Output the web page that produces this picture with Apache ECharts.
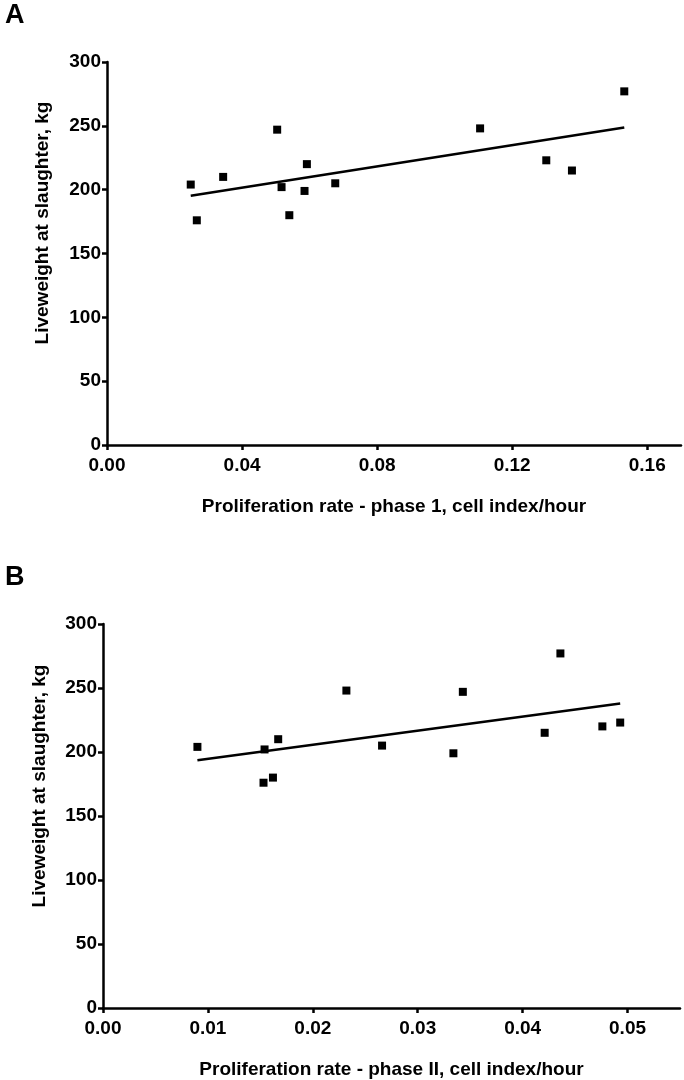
<!DOCTYPE html>
<html>
<head>
<meta charset="utf-8">
<script src="https://cdn.jsdelivr.net/npm/echarts@6/dist/echarts.min.js"></script>
<style>
html,body{margin:0;padding:0;background:#fff;}
#c{width:684px;height:1080px;}
</style>
</head>
<body>
<div id="c"></div>
<script>
// Panel A data: proliferation rate phase 1 vs liveweight
const xA = [0.0248, 0.0266, 0.0344, 0.0504, 0.0517, 0.0540, 0.0592, 0.0585, 0.0676, 0.1105, 0.1301, 0.1377, 0.1532];
const yA = [204, 176, 210, 247, 202, 180, 220, 199, 205, 248, 223, 215, 277];
const trendAx = [0.0248, 0.1532];
const trendAy = [195.3, 248.7];

// Panel B data: proliferation rate phase II vs liveweight
const xB = [0.0090, 0.0154, 0.0153, 0.0162, 0.0167, 0.0232, 0.0266, 0.0334, 0.0343, 0.0436, 0.0421, 0.0476, 0.0493];
const yB = [204, 202, 176, 180, 210, 248, 205, 199, 247, 277, 215, 220, 223];
const trendBx = [0.0090, 0.0493];
const trendBy = [193.5, 237.9];

const yTicks = [0, 50, 100, 150, 200, 250, 300];
const xTicksA = [0, 0.04, 0.08, 0.12, 0.16];
const xTicksB = [0, 0.01, 0.02, 0.03, 0.04, 0.05];
const yTitle = 'Liveweight at slaughter, kg';

const FONT = '"Liberation Sans", Arial, sans-serif';
const FS = 19;
const zip = (a, b) => a.map((v, i) => [v, b[i]]);

function xAxisCfg(gi, max, ticks, name) {
  return {
    type: 'value', gridIndex: gi, min: 0, max: max,
    name: name, nameLocation: 'middle', nameGap: 52,
    nameTextStyle: {fontFamily: FONT, fontWeight: 'bold', fontSize: FS, color: '#000'},
    axisLine: {show: true, onZero: false, lineStyle: {color: '#000', width: 2.5}},
    axisTick: {show: true, length: 5, lineStyle: {color: '#000', width: 2.5}, customValues: ticks},
    axisLabel: {customValues: ticks, formatter: v => v.toFixed(2), fontFamily: FONT, fontWeight: 'bold', fontSize: FS, color: '#000', margin: 11},
    splitLine: {show: false}
  };
}
function yAxisCfg(gi) {
  return {
    type: 'value', gridIndex: gi, min: 0, max: 300, interval: 50,
    axisLine: {show: true, onZero: false, lineStyle: {color: '#000', width: 2.5}},
    axisTick: {show: true, length: 5, lineStyle: {color: '#000', width: 2.5}, customValues: yTicks},
    axisLabel: {customValues: yTicks, fontFamily: FONT, fontWeight: 'bold', fontSize: FS, color: '#000', margin: 6},
    splitLine: {show: false}
  };
}
function yTitleText(x, y) {
  return {
    type: 'text', x: x, y: y, rotation: Math.PI / 2,
    style: {text: yTitle, fontFamily: FONT, fontWeight: 'bold', fontSize: FS, fill: '#000', align: 'center', verticalAlign: 'middle'}
  };
}
const markStyle = {color: '#000', opacity: 1};

const chart = echarts.init(document.getElementById('c'), null, {renderer: 'canvas'});
chart.setOption({
  animation: false,
  backgroundColor: '#fff',
  title: [
    {text: 'A', left: 0, top: -3, textStyle: {fontFamily: FONT, fontWeight: 'bold', fontSize: 27, color: '#000'}},
    {text: 'B', left: 0, top: 559, textStyle: {fontFamily: FONT, fontWeight: 'bold', fontSize: 27, color: '#000'}}
  ],
  graphic: [yTitleText(43, 223), yTitleText(40, 786)],
  grid: [
    {left: 107, top: 62, width: 574, height: 383},
    {left: 103, top: 624, width: 577, height: 385}
  ],
  xAxis: [
    xAxisCfg(0, 0.17, xTicksA, 'Proliferation rate - phase 1, cell index/hour'),
    xAxisCfg(1, 0.055, xTicksB, 'Proliferation rate - phase II, cell index/hour')
  ],
  yAxis: [yAxisCfg(0), yAxisCfg(1)],
  series: [
    {type: 'scatter', xAxisIndex: 0, yAxisIndex: 0, data: zip(xA, yA), symbol: 'rect', symbolSize: 8, itemStyle: markStyle},
    {type: 'line', xAxisIndex: 0, yAxisIndex: 0, data: zip(trendAx, trendAy), symbol: 'none', lineStyle: {color: '#000', width: 2.5}},
    {type: 'scatter', xAxisIndex: 1, yAxisIndex: 1, data: zip(xB, yB), symbol: 'rect', symbolSize: 8, itemStyle: markStyle},
    {type: 'line', xAxisIndex: 1, yAxisIndex: 1, data: zip(trendBx, trendBy), symbol: 'none', lineStyle: {color: '#000', width: 2.5}}
  ]
});
</script>
</body>
</html>
